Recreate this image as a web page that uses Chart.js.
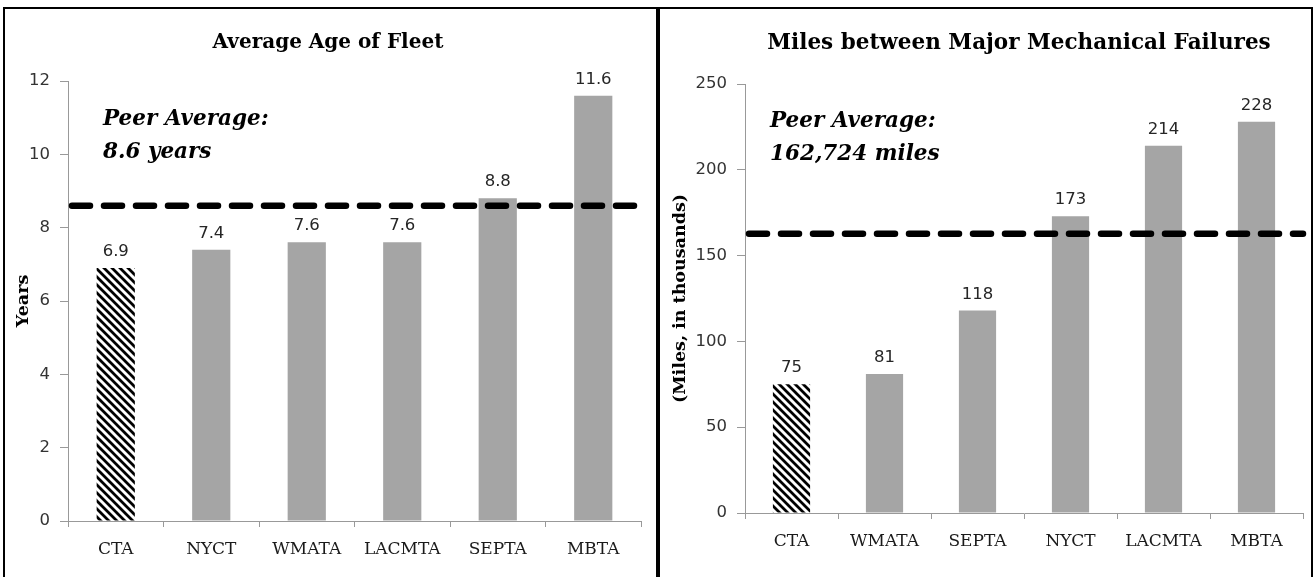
<!DOCTYPE html>
<html>
<head>
<meta charset="utf-8">
<script src="https://cdn.jsdelivr.net/npm/chart.js@4.4.1/dist/chart.umd.min.js"></script>
<style>
    html, body { margin: 0; padding: 0; background: #fff; overflow: hidden; }
    .panel { position: absolute; top: 7px; width: 651px; height: 575px; border: 2px solid #000; }
    #p1 { left: 3px; }
    #p2 { left: 658px; }
    .panel canvas { position: absolute; left: 0; top: 0; }
</style>
</head>
<body>
<div class="panel" id="p1"><canvas id="chart-idade" width="651" height="568"></canvas></div>
<div class="panel" id="p2"><canvas id="chart-falhas" width="651" height="568"></canvas></div>
<script>
// Dados - Idade média da frota
const fleetAgencies = ['CTA', 'NYCT', 'WMATA', 'LACMTA', 'SEPTA', 'MBTA'];
const fleetAges = [6.9, 7.4, 7.6, 7.6, 8.8, 11.6];
const fleetPeerAvg = 8.6;
const fleetMax = 12, fleetStep = 2;

// Dados - Milhas entre falhas mecânicas (milhares)
const failAgencies = ['CTA', 'WMATA', 'SEPTA', 'NYCT', 'LACMTA', 'MBTA'];
const failMiles = [75, 81, 118, 173, 214, 228];
const failPeerAvg = 162.724;
const failMax = 250, failStep = 50;

const GRAY = '#a5a5a5';
const AXIS = '#999999';
const SERIF = '"DejaVu Serif", "Liberation Serif", serif';
const SANS = '"DejaVu Sans", "Noto Sans", sans-serif';

// hachura diagonal para a barra da CTA
function hatch() {
    const c = document.createElement('canvas');
    c.width = 8; c.height = 8;
    const g = c.getContext('2d');
    g.strokeStyle = '#000';
    g.lineWidth = 2.8;
    g.beginPath();
    g.moveTo(-2, -2); g.lineTo(10, 10);
    g.moveTo(-10, -2); g.lineTo(2, 10);
    g.moveTo(6, -2); g.lineTo(18, 10);
    g.stroke();
    return g.createPattern(c, 'repeat');
}

// linha da média + textos + rótulos + título
const peerPlugin = {
    id: 'peer',
    afterDatasetsDraw(chart, args, o) {
        const { ctx, chartArea, scales } = chart;
        ctx.save();

        // rótulos de valor
        const meta = chart.getDatasetMeta(0);
        ctx.font = '16.5px ' + SANS;
        ctx.fillStyle = '#262626';
        ctx.textAlign = 'center';
        ctx.textBaseline = 'bottom';
        meta.data.forEach((bar, i) => {
            const v = chart.data.datasets[0].data[i];
            ctx.fillText(o.fmt(v), bar.x, bar.y - 8);
        });

        // linha tracejada
        const y = scales.y.getPixelForValue(o.value);
        ctx.strokeStyle = '#000';
        ctx.lineWidth = 6.5;
        ctx.lineCap = 'round';
        ctx.setLineDash([18, 14]);
        ctx.beginPath();
        ctx.moveTo(chartArea.left + 4, y);
        ctx.lineTo(chartArea.right + o.extend, y);
        ctx.stroke();
        ctx.setLineDash([]);

        // texto da média
        ctx.font = 'italic bold 21.5px ' + SERIF;
        ctx.fillStyle = '#000';
        ctx.textAlign = 'left';
        ctx.textBaseline = 'middle';
        o.lines.forEach((t, i) => ctx.fillText(t, o.tx, o.ty + i * 33));

        // título
        ctx.font = 'bold ' + o.titleSize + 'px ' + SERIF;
        ctx.textAlign = 'center';
        ctx.fillText(o.title, o.titleX, 34);
        ctx.restore();
    }
};

function makeChart(id, labels, values, cfg) {
    const ctx = document.getElementById(id).getContext('2d');
    const colors = values.map((v, i) => i === 0 ? hatch() : GRAY);
    return new Chart(ctx, {
        type: 'bar',
        data: {
            labels: labels,
            datasets: [{
                data: values,
                backgroundColor: colors,
                borderWidth: 0,
                barPercentage: 0.4,
                categoryPercentage: 1
            }]
        },
        options: {
            responsive: false,
            animation: false,
            layout: { padding: { left: 0, right: cfg.padRight, top: cfg.padTop, bottom: 0 } },
            scales: {
                x: {
                    grid: { display: true, drawOnChartArea: false, drawTicks: true, tickLength: 6, color: AXIS, offset: true },
                    border: { color: AXIS },
                    ticks: { color: '#1a1a1a', font: { family: SERIF, size: 17 }, padding: 12, maxRotation: 0 },
                    afterFit(s) { s.height = cfg.xHeight; }
                },
                y: {
                    min: 0, max: cfg.max,
                    grid: { display: true, drawOnChartArea: false, drawTicks: true, tickLength: 8, color: AXIS },
                    border: { color: AXIS },
                    ticks: { stepSize: cfg.step, color: '#333333', font: { family: SANS, size: 16.5 }, padding: 10 },
                    title: { display: true, text: cfg.yTitle, color: '#000', font: { family: SERIF, size: 17.5, weight: 'bold' }, padding: { top: cfg.yTitlePad } },
                    afterFit(s) { s.width = cfg.yWidth; }
                }
            },
            plugins: {
                legend: { display: false },
                tooltip: { enabled: false },
                peer: cfg.peer
            }
        },
        plugins: [peerPlugin]
    });
}

makeChart('chart-idade', fleetAgencies, fleetAges, {
    max: fleetMax, step: fleetStep, yTitle: 'Years', yTitlePad: 8,
    yWidth: 63, padRight: 15, padTop: 72, xHeight: 56,
    peer: {
        value: fleetPeerAvg, extend: 4, fmt: v => v.toFixed(1),
        lines: ['Peer Average:', '8.6 years'], tx: 98, ty: 110,
        title: 'Average Age of Fleet', titleX: 323, titleSize: 20
    }
});

makeChart('chart-falhas', failAgencies, failMiles, {
    max: failMax, step: failStep, yTitle: '(Miles, in thousands)', yTitlePad: 10,
    yWidth: 85, padRight: 8, padTop: 75, xHeight: 64,
    peer: {
        value: failPeerAvg, extend: 0, fmt: v => String(v),
        lines: ['Peer Average:', '162,724 miles'], tx: 110, ty: 112,
        title: 'Miles between Major Mechanical Failures', titleX: 359, titleSize: 21.5
    }
});
</script>
</body>
</html>
